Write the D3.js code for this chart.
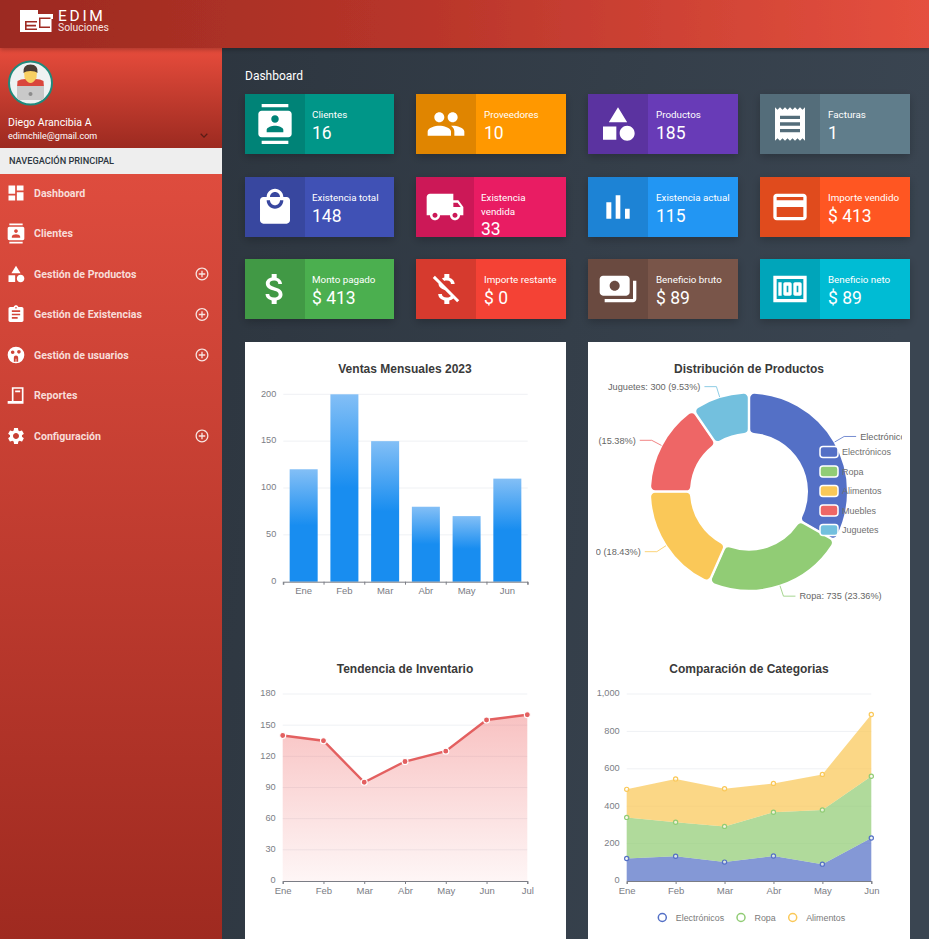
<!DOCTYPE html>
<html lang="es"><head><meta charset="utf-8"><title>Dashboard</title>
<script src="https://cdn.jsdelivr.net/npm/d3@7/dist/d3.min.js"></script>
<style>html,body{margin:0;padding:0;background:#2c3640;overflow:hidden}svg{display:block}
.ui{font-family:Roboto,sans-serif}.ch{font-family:"Liberation Sans",Arial,sans-serif}</style></head><body>
<svg id="c" width="929" height="939" viewBox="0 0 929 939"></svg>
<script>
// ---------- data ----------
const cardLabels=[["Clientes"],["Proveedores"],["Productos"],["Facturas"],["Existencia total"],["Existencia","vendida"],["Existencia actual"],["Importe vendido"],["Monto pagado"],["Importe restante"],["Beneficio bruto"],["Beneficio neto"]];
const cardValues=["16","10","185","1","148","33","115","$ 413","$ 413","$ 0","$ 89","$ 89"];
const cardColors=["#009688","#ff9800","#673ab7","#607d8b","#3f51b5","#e91e63","#2196f3","#ff5722","#4caf50","#f44336","#795548","#00bcd4"];
const menuItems=["Dashboard","Clientes","Gestión de Productos","Gestión de Existencias","Gestión de usuarios","Reportes","Configuración"];
const menuExpandable=[false,false,true,true,true,false,true];
const barMonths=["Ene","Feb","Mar","Abr","May","Jun"];
const barValues=[120,200,150,80,70,110];
const barTicks=[0,50,100,150,200];
const pieNames=["Electrónicos","Ropa","Alimentos","Muebles","Juguetes"];
const pieValues=[1048,735,580,484,300];
const lineMonths=["Ene","Feb","Mar","Abr","May","Jun","Jul"];
const lineValues=[140,135,95,115,125,155,160];
const lineTicks=[0,30,60,90,120,150,180];
const stackMonths=["Ene","Feb","Mar","Abr","May","Jun"];
const electronicos=[120,132,101,134,90,230];
const ropa=[220,182,191,234,290,330];
const alimentos=[150,232,201,154,190,330];
const stackTicks=[0,200,400,600,800,1000];
const stackNames=["Electrónicos","Ropa","Alimentos"];
const palette=["#5470c6","#91cc75","#fac858","#ee6666","#73c0de"];

// ---------- icons (24x24 glyphs) ----------
const I={
dashboard:"M3 13h8V3H3v10zm0 8h8v-6H3v6zm10 0h8V11h-8v10zm0-18v6h8V3h-8z",
contacts:"M20 0H4v2h16V0zM4 24h16v-2H4v2zM20 4H4c-1.1 0-2 .9-2 2v12c0 1.1.9 2 2 2h16c1.1 0 2-.9 2-2V6c0-1.1-.9-2-2-2zm-8 2.75c1.24 0 2.25 1.01 2.25 2.25s-1.01 2.25-2.25 2.25S9.75 10.24 9.75 9 10.76 6.75 12 6.75zM17 17H7v-1.5c0-1.67 3.33-2.5 5-2.5s5 .83 5 2.5V17z",
people:"M16 11c1.66 0 2.99-1.34 2.99-3S17.66 5 16 5c-1.66 0-3 1.34-3 3s1.34 3 3 3zm-8 0c1.66 0 2.99-1.34 2.99-3S9.66 5 8 5C6.34 5 5 6.34 5 8s1.34 3 3 3zm0 2c-2.33 0-7 1.17-7 3.5V19h14v-2.5c0-2.33-4.67-3.5-7-3.5zm8 0c-.29 0-.62.02-.97.05 1.16.84 1.97 1.97 1.97 3.45V19h6v-2.5c0-2.33-4.67-3.5-7-3.5z",
category:"M12 2l-5.5 9h11L12 2zm5.5 11c-2.49 0-4.5 2.01-4.5 4.5s2.01 4.5 4.5 4.5 4.5-2.01 4.5-4.5-2.01-4.5-4.5-4.5zM3 13.5h8v8H3z",
receipt:"M18 17H6v-2h12v2zm0-4H6v-2h12v2zm0-4H6V7h12v2zM3 22l1.5-1.5L6 22l1.5-1.5L9 22l1.5-1.5L12 22l1.5-1.5L15 22l1.5-1.5L18 22l1.5-1.5L21 22V2l-1.5 1.5L18 2l-1.5 1.5L15 2l-1.5 1.5L12 2l-1.5 1.5L9 2 7.5 3.5 6 2 4.5 3.5 3 2v20z",
mall:"M19 6h-2c0-2.76-2.24-5-5-5S7 3.24 7 6H5c-1.1 0-1.99.9-1.99 2L3 20c0 1.1.9 2 2 2h14c1.1 0 2-.9 2-2V8c0-1.1-.9-2-2-2zm-7-3c1.66 0 3 1.34 3 3H9c0-1.66 1.34-3 3-3zm0 10c-2.76 0-5-2.24-5-5h2c0 1.66 1.34 3 3 3s3-1.34 3-3h2c0 2.76-2.24 5-5 5z",
truck:"M20 8h-3V4H3c-1.1 0-2 .9-2 2v11h2c0 1.66 1.34 3 3 3s3-1.34 3-3h6c0 1.66 1.34 3 3 3s3-1.34 3-3h2v-5l-3-4zM6 18.5c-.83 0-1.5-.67-1.5-1.5s.67-1.5 1.5-1.5 1.5.67 1.5 1.5-.67 1.5-1.5 1.5zm13.5-9l1.96 2.5H17V9.5h2.5zm-1.5 9c-.83 0-1.5-.67-1.5-1.5s.67-1.5 1.5-1.5 1.5.67 1.5 1.5-.67 1.5-1.5 1.5z",
bars:"M5 9.2h3V19H5zM10.6 5h2.8v14h-2.8zm5.6 8H19v6h-2.8z",
card:"M20 4H4c-1.11 0-1.99.89-1.99 2L2 18c0 1.11.89 2 2 2h16c1.11 0 2-.89 2-2V6c0-1.11-.89-2-2-2zm0 14H4v-6h16v6zm0-10H4V6h16v2z",
money:"M11.8 10.9c-2.27-.59-3-1.2-3-2.15 0-1.09 1.01-1.85 2.7-1.85 1.78 0 2.44.85 2.5 2.1h2.21c-.07-1.72-1.12-3.3-3.21-3.81V3h-3v2.16c-1.94.42-3.5 1.68-3.5 3.61 0 2.31 1.91 3.46 4.7 4.13 2.5.6 3 1.48 3 2.41 0 .69-.49 1.79-2.7 1.79-2.06 0-2.87-.92-2.98-2.1h-2.2c.12 2.19 1.76 3.42 3.68 3.83V21h3v-2.15c1.95-.37 3.5-1.5 3.5-3.55 0-2.84-2.43-3.81-4.7-4.4z",
moneyOff:"M12.5 6.9c1.78 0 2.44.85 2.5 2.1h2.21c-.07-1.72-1.12-3.3-3.21-3.81V3h-3v2.16c-.53.12-1.03.3-1.48.54l1.47 1.47c.41-.17.91-.27 1.51-.27zM5.33 4.06L4.06 5.33 7.5 8.77c0 2.08 1.56 3.21 3.91 3.91l3.51 3.51c-.34.48-1.05.91-2.42.91-2.06 0-2.87-.92-2.98-2.1h-2.2c.12 2.19 1.76 3.42 3.68 3.83V21h3v-2.15c.96-.18 1.82-.55 2.45-1.12l2.22 2.22 1.27-1.27L5.33 4.06z",
payments:"M19 14V6c0-1.1-.9-2-2-2H3c-1.1 0-2 .9-2 2v8c0 1.1.9 2 2 2h14c1.1 0 2-.9 2-2zm-9-1c-1.66 0-3-1.34-3-3s1.34-3 3-3 3 1.34 3 3-1.34 3-3 3zm13-6v11c0 1.1-.9 2-2 2H4v-2h17V7h2z",
hundred:"M5 8h2v8H5zm7 0H9c-.55 0-1 .45-1 1v6c0 .55.45 1 1 1h3c.55 0 1-.45 1-1V9c0-.55-.45-1-1-1zm-1 6h-1v-4h1v4zm7-6h-3c-.55 0-1 .45-1 1v6c0 .55.45 1 1 1h3c.55 0 1-.45 1-1V9c0-.55-.45-1-1-1zm-1 6h-1v-4h1v4zM2 4v16h20V4H2zm2 14V6h16v12H4z",
assign:"M19 3h-4.18C14.4 1.84 13.3 1 12 1c-1.3 0-2.4.84-2.82 2H5c-1.1 0-2 .9-2 2v14c0 1.1.9 2 2 2h14c1.1 0 2-.9 2-2V5c0-1.1-.9-2-2-2zm-7 0c.55 0 1 .45 1 1s-.45 1-1 1-1-.45-1-1 .45-1 1-1zm2 14H7v-2h7v2zm3-4H7v-2h10v2zm0-4H7V7h10v2z",
users:"M12 2a10 10 0 1 0 0 20a10 10 0 0 0 0-20zM8 6.5a2.2 2.2 0 1 1 0 4.4A2.2 2.2 0 0 1 8 6.5zM15.5 6a2.2 2.2 0 1 1 0 4.4A2.2 2.2 0 0 1 15.5 6zM12 12.5a2.6 2.6 0 0 1 2.6 2.6V20h-2.2v-3.5h-.8V20H9.4v-4.9A2.6 2.6 0 0 1 12 12.5z",
report:"M7 2h14v20H2v-3.5h5V2zm2 2v14.5h10V4H9zm2 2h6v2h-6V6z",
settings:"M19.14 12.94c.04-.3.06-.61.06-.94 0-.32-.02-.64-.07-.94l2.03-1.58c.18-.14.23-.41.12-.61l-1.92-3.32c-.12-.22-.37-.29-.59-.22l-2.39.96c-.5-.38-1.03-.7-1.62-.94l-.36-2.54c-.04-.24-.24-.41-.48-.41h-3.84c-.24 0-.43.17-.47.41l-.36 2.54c-.59.24-1.13.57-1.62.94l-2.39-.96c-.22-.08-.47 0-.59.22L2.74 8.87c-.12.21-.08.47.12.61l2.03 1.58c-.05.3-.09.63-.09.94s.02.64.07.94l-2.03 1.58c-.18.14-.23.41-.12.61l1.92 3.32c.12.22.37.29.59.22l2.39-.96c.5.38 1.03.7 1.62.94l.36 2.54c.05.24.24.41.48.41h3.84c.24 0 .44-.17.47-.41l.36-2.54c.59-.24 1.13-.56 1.62-.94l2.39.96c.22.08.47 0 .59-.22l1.92-3.32c.12-.22.07-.47-.12-.61l-2.01-1.58zM12 15.6c-1.98 0-3.6-1.62-3.6-3.6s1.62-3.6 3.6-3.6 3.6 1.62 3.6 3.6-1.62 3.6-3.6 3.6z",
plus:"M13 7h-2v4H7v2h4v4h2v-4h4v-2h-4V7zm-1-5C6.48 2 2 6.48 2 12s4.48 10 10 10 10-4.48 10-10S17.52 2 12 2zm0 18c-4.41 0-8-3.59-8-8s3.59-8 8-8 8 3.59 8 8-3.59 8-8 8z",
chevron:"M16.59 8.59L12 13.17 7.41 8.59 6 10l6 6 6-6z"};
const cardIcons=["contacts","people","category","receipt","mall","truck","bars","card","money","moneyOff","payments","hundred"];
const menuIcons=["dashboard","contacts","category","assign","users","report","settings"];

const svg=d3.select("#c"), defs=svg.append("defs");
function grad(id,x2,y2,stops){const g=defs.append("linearGradient").attr("id",id).attr("x1",0).attr("y1",0).attr("x2",x2).attr("y2",y2);
  stops.forEach(s=>g.append("stop").attr("offset",s[0]).attr("stop-color",s[1]).attr("stop-opacity",s[2]==null?1:s[2]));return g;}
grad("gTop",1,0,[[0,"#9c2a20"],[.45,"#b8352a"],[1,"#e5503f"]]);
grad("gUser",0,1,[[0,"#e74c3c"],[1,"#9c2a20"]]);
grad("gMenu",0,1,[[0,"#de4c3e"],[1,"#9f2a20"]]);
grad("gBg",1,.15,[[0,"#29313a"],[1,"#3a4551"]]);
grad("gBar",0,1,[[0,"#83bff6"],[.5,"#188df0"],[1,"#188df0"]]);
grad("gLine",0,1,[[0,"#ee6666",.4],[1,"#ee6666",.06]]);
const sh=defs.append("filter").attr("id","sh").attr("x","-10%").attr("y","-15%").attr("width","120%").attr("height","140%");
sh.append("feDropShadow").attr("dx",0).attr("dy",3).attr("stdDeviation",4).attr("flood-color","#000").attr("flood-opacity",.22);
const sh2=defs.append("filter").attr("id","sh2").attr("x","-5%").attr("y","-5%").attr("width","110%").attr("height","130%");
sh2.append("feDropShadow").attr("dx",0).attr("dy",2).attr("stdDeviation",2).attr("flood-color","#000").attr("flood-opacity",.25);

function icon(g,name,cx,cy,size,fill){g.append("path").attr("d",I[name]).attr("fill",fill||"#fff").attr("fill-rule","evenodd")
  .attr("transform",`translate(${cx-size/2},${cy-size/2}) scale(${size/24})`);}
function txt(g,s,x,y,size,fill,o={}){return g.append("text").attr("x",x).attr("y",y).attr("font-size",size).attr("fill",fill)
  .attr("text-anchor",o.a||"start").attr("font-weight",o.w||400).attr("class",o.c||"ui").text(s);}

// ---------- shell ----------
svg.append("rect").attr("width",929).attr("height",939).attr("fill","url(#gBg)");
svg.append("rect").attr("y",48).attr("width",222).attr("height",100).attr("fill","url(#gUser)");
svg.append("rect").attr("y",148).attr("width",222).attr("height",26).attr("fill","#eeeeee");
svg.append("rect").attr("y",174).attr("width",222).attr("height",765).attr("fill","url(#gMenu)");
svg.append("rect").attr("width",929).attr("height",48).attr("fill","url(#gTop)").attr("filter","url(#sh2)");

// logo
const logo=svg.append("g");
logo.append("path").attr("fill","#fff").attr("fill-rule","evenodd")
 .attr("d","M20 10h18v4h15v5h-1.5v13H20zM25 21h12v1.6H26.6v2.2H36v1.6H26.6v2h10.4v1.6H25zM39 17.5h11.5v1.5H40.5v7.5H50v1.5H39z");
txt(logo,"EDIM",58,21,15.5,"#fff").attr("letter-spacing",2.7);
txt(logo,"Soluciones",58,31,10.4,"#f6e4e1");

// user
const av=svg.append("g").attr("transform","translate(30.5,83)");
av.append("circle").attr("r",21.5).attr("fill","#eef2f2").attr("stroke","#1f8a7c").attr("stroke-width",2);
defs.append("clipPath").attr("id","avc").append("circle").attr("r",20.5);
const avI=av.append("g").attr("clip-path","url(#avc)");
avI.append("path").attr("d","M-13.5 5 L-13 -2 Q-10 -4 -5 -4 L5 -4 Q10 -4 13 -2 L13.5 5 Z").attr("fill","#d9463c");
avI.append("path").attr("d","M-6.5 -12 L6.5 -12 L6 -5 Q3 0 0 0 Q-3 0 -6 -5 Z").attr("fill","#f8cf62");
avI.append("path").attr("d","M-7 -10 Q-8 -18.5 0 -18.5 Q8 -18.5 7 -10 Q5 -12 0 -12 Q-5 -12 -7 -10Z").attr("fill","#4a3b33");
avI.append("rect").attr("x",-13.5).attr("y",3).attr("width",27).attr("height",14).attr("fill","#c9c9c9");
avI.append("circle").attr("cy",11).attr("r",2).attr("fill","#8c8c8c");
txt(svg,"Diego Arancibia A",8,126,10.6,"#fff");
txt(svg,"edimchile@gmail.com",8,139,9,"#fff");
icon(svg,"chevron",204,135.5,15,"#5a1d17");
txt(svg,"NAVEGACIÓN PRINCIPAL",9,164,9.2,"#2c3640",{w:500});

// menu
const menuY=d3.scalePoint().domain(menuItems).range([193,436]);
menuItems.forEach((m,i)=>{const y=menuY(m);
  icon(svg,menuIcons[i],16,y,20);
  txt(svg,m,34,y+3.8,10.6,"#f8dcd8",{w:700});
  if(menuExpandable[i])icon(svg,"plus",202,y,15.5,"#f8e6e3");
});

// ---------- stat cards ----------
txt(svg,"Dashboard",245,80,12,"#fff");
const cardX=[245,416,588,760], cardW=[149,150,150,150], cardY=[94,177,259];
cardLabels.forEach((lab,i)=>{const c=i%4,r=Math.floor(i/4),x=cardX[c],y=cardY[r],w=cardW[c];
  const g=svg.append("g");
  const narrow=lab.length>1, boxW=narrow?58:60;
  g.append("rect").attr("x",x).attr("y",y).attr("width",w).attr("height",60).attr("fill",cardColors[i]).attr("filter","url(#sh)");
  g.append("rect").attr("x",x).attr("y",y).attr("width",boxW).attr("height",60).attr("fill","#000").attr("opacity",.12);
  icon(g,cardIcons[i],x+boxW/2,y+30,40);
  const tx=x+boxW+7+(c>0&&!narrow?1:0);
  lab.forEach((t,k)=>txt(g,t,tx,y+23.5+k*14,9.8,"#fff"));
  txt(g,cardValues[i],tx,y+(narrow?58:44.5),17.5,"#fff");
});

// ---------- chart panels ----------
svg.append("rect").attr("x",245).attr("y",342).attr("width",321).attr("height",597).attr("fill","#fff");
svg.append("rect").attr("x",588).attr("y",342).attr("width",322).attr("height",597).attr("fill","#fff");
const gray="#7b7d85", gridC="#eff1f4";
function title(s,x,y){txt(svg,s,x,y,12,"#3a3a3a",{a:"middle",w:700,c:"ch"});}
function axes(g,x,y,yTicks,fmt){
  const [l,r]=x.range();
  yTicks.forEach(v=>{ if(v>0) g.append("line").attr("x1",l).attr("x2",r).attr("y1",y(v)).attr("y2",y(v)).attr("stroke",gridC);});
  const ya=d3.axisLeft(y).tickValues(yTicks).tickSize(0).tickPadding(7).tickFormat(fmt||(d=>d));
  const ga=g.append("g").attr("transform",`translate(${l},0)`).call(ya);
  ga.select(".domain").remove();
  ga.selectAll("text").attr("fill",gray).attr("font-size",9.2).attr("font-family","Liberation Sans").attr("dy","0.2em");
}
function xAxisBottom(g,x,y0){
  const a=d3.axisBottom(x).tickSize(3).tickSizeOuter(3).tickPadding(3);
  const ga=g.append("g").attr("transform",`translate(0,${y0})`).call(a);
  ga.select(".domain").attr("stroke",gray).attr("stroke-width",1);
  ga.selectAll(".tick line").attr("stroke",gray);
  ga.selectAll("text").attr("fill",gray).attr("font-size",9.5).attr("font-family","Liberation Sans");
  return ga;
}

// bar
title("Ventas Mensuales 2023",405,373);
{const g=svg.append("g");
 const x=d3.scaleBand().domain(barMonths).range([283.3,527.7]);
 const y=d3.scaleLinear().domain([0,200]).range([581.7,394.3]);
 axes(g,x,y,barTicks);
 const w=28;
 g.selectAll("rect.b").data(barValues).join("rect").attr("class","b")
  .attr("x",(d,i)=>x(barMonths[i])+(x.bandwidth()-w)/2).attr("width",w)
  .attr("y",d=>y(d)).attr("height",d=>y(0)-y(d)).attr("fill","url(#gBar)");
 const ga=xAxisBottom(g,x,581.7);
 ga.selectAll(".tick line").remove();
 const edges=barMonths.map(m=>x(m)).concat([x.range()[1]]);
 ga.selectAll("line.e").data(edges).join("line").attr("class","e").attr("x1",d=>d).attr("x2",d=>d).attr("y1",0).attr("y2",3).attr("stroke",gray);
}

// pie
title("Distribución de Productos",749,373);
{defs.append("clipPath").attr("id","pc").append("rect").attr("x",596).attr("y",345).attr("width",306).attr("height",280);
 const g=svg.append("g").attr("clip-path","url(#pc)");
 const c=g.append("g").attr("transform","translate(749,491.7)");
 const pie=d3.pie().sort(null).padAngle(0.004)(pieValues);
 const R=99,r0=58;
 const arc=d3.arc().innerRadius(r0).outerRadius(R).cornerRadius(5);
 c.selectAll("path.s").data(pie).join("path").attr("class","s").attr("d",arc)
  .attr("fill",(d,i)=>palette[i]).attr("stroke","#fff").attr("stroke-width",2);
 const total=d3.sum(pieValues);
 pie.forEach((d,i)=>{const a=(d.startAngle+d.endAngle)/2,s=Math.sin(a),co=-Math.cos(a);
   const p0=[s*R,co*R],p1=[s*110,co*110],dir=s>=0?1:-1,p2=[p1[0]+dir*12,p1[1]];
   c.append("path").attr("d",d3.line()([p0,p1,p2])).attr("fill","none").attr("stroke",palette[i]).attr("stroke-width",1).attr("opacity",.8);
   txt(c,`${pieNames[i]}: ${pieValues[i]} (${(pieValues[i]/total*100).toFixed(2)}%)`,p2[0]+dir*4,p2[1]+3.3,9.2,"#666",{a:dir>0?"start":"end",c:"ch"});
 });
 const ly=d3.scalePoint().domain(pieNames).range([452,530]);
 pieNames.forEach((n,i)=>{
   g.append("rect").attr("x",820).attr("y",ly(n)-5.5).attr("width",18).attr("height",11).attr("rx",3).attr("fill",palette[i]).attr("stroke","#fff").attr("stroke-width",1.5);
   txt(g,n,842,ly(n)+3.3,9,"#707070",{c:"ch"});
 });
}

// line
title("Tendencia de Inventario",405,673);
{const g=svg.append("g");
 const x=d3.scalePoint().domain(lineMonths).range([282.7,527.3]);
 const y=d3.scaleLinear().domain([0,180]).range([881,694]);
 axes(g,x,y,lineTicks);
 const px=(d,i)=>x(lineMonths[i]);
 g.append("path").datum(lineValues).attr("fill","url(#gLine)")
  .attr("d",d3.area().x(px).y0(y(0)).y1(d=>y(d)));
 g.append("path").datum(lineValues).attr("fill","none").attr("stroke","#e36060").attr("stroke-width",2.4)
  .attr("d",d3.line().x(px).y(d=>y(d)));
 g.selectAll("circle").data(lineValues).join("circle").attr("cx",px).attr("cy",d=>y(d)).attr("r",3)
  .attr("fill","#e36060").attr("stroke","#fff").attr("stroke-width",1.1);
 xAxisBottom(g,x,881);
}

// stacked
title("Comparación de Categorias",749,673);
{const g=svg.append("g");
 const x=d3.scalePoint().domain(stackMonths).range([626.7,871.3]);
 const y=d3.scaleLinear().domain([0,1000]).range([881,694]);
 axes(g,x,y,stackTicks,d3.format(","));
 const rows=stackMonths.map((m,i)=>({m,a:electronicos[i],b:ropa[i],c:alimentos[i]}));
 const st=d3.stack().keys(["a","b","c"])(rows);
 const area=d3.area().x(d=>x(d.data.m)).y0(d=>y(d[0])).y1(d=>y(d[1]));
 st.forEach((s,k)=>{g.append("path").datum(s).attr("d",area).attr("fill",palette[k]).attr("opacity",.72);});
 st.forEach((s,k)=>{g.selectAll("circle.k"+k).data(s).join("circle").attr("class","k"+k)
   .attr("cx",d=>x(d.data.m)).attr("cy",d=>y(d[1])).attr("r",2.1).attr("fill","#fff").attr("fill-opacity",.6).attr("stroke",palette[k]).attr("stroke-width",1.2);});
 xAxisBottom(g,x,881);
 const lx=[662.3,741,792.7];
 stackNames.forEach((n,i)=>{
   g.append("circle").attr("cx",lx[i]).attr("cy",917.5).attr("r",4).attr("fill","#fff").attr("stroke",palette[i]).attr("stroke-width",1.5);
   txt(g,n,lx[i]+13.5,921,8.9,"#7a7a7a",{c:"ch"});
 });
}
</script></body></html>
